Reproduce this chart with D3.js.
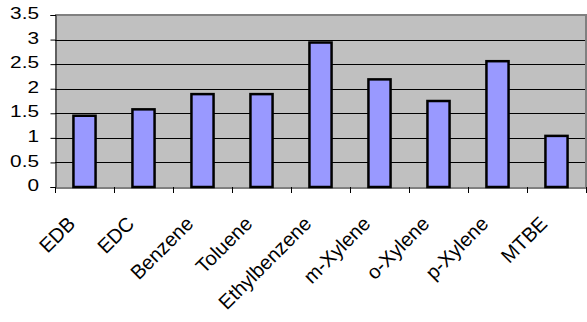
<!DOCTYPE html>
<html>
<head>
<meta charset="utf-8">
<script src="https://cdn.jsdelivr.net/npm/d3@7"></script>
<style>
  html, body { margin: 0; padding: 0; background: #ffffff; }
  svg { display: block; }
  text { font-family: "Liberation Sans", Arial, sans-serif; fill: #000; }
</style>
</head>
<body>
<svg id="chart" width="587" height="322"></svg>
<script>
// Compounds along the category axis
const categories = ["EDB", "EDC", "Benzene", "Toluene", "Ethylbenzene",
                    "m-Xylene", "o-Xylene", "p-Xylene", "MTBE"];
// One value per compound
const values = [1.45, 1.58, 1.89, 1.89, 2.94, 2.19, 1.75, 2.56, 1.04];
// Value-axis tick labels
const yTicks = [0, 0.5, 1, 1.5, 2, 2.5, 3, 3.5];

const svg = d3.select("#chart");
const plot = { left: 55, right: 586, top: 15, bottom: 187 };
const numStretch = 1.3;   // wide numerals on the value axis

const x = d3.scaleBand().domain(categories).range([plot.left, plot.right]).padding(0);
const y = d3.scaleLinear().domain([0, 3.5]).range([plot.bottom, plot.top]);

// Plot area background
svg.append("rect")
  .attr("x", plot.left).attr("y", plot.top)
  .attr("width", plot.right - plot.left).attr("height", plot.bottom - plot.top)
  .attr("fill", "#c0c0c0");

// Horizontal gridlines
svg.append("g").selectAll("line")
  .data(yTicks.filter(d => d > 0 && d < 3.5))
  .join("line")
  .attr("x1", plot.left).attr("x2", plot.right)
  .attr("y1", d => Math.round(y(d)) + 0.5).attr("y2", d => Math.round(y(d)) + 0.5)
  .attr("stroke", "#000").attr("stroke-width", 1);

// Plot area frame (top and right)
svg.append("path")
  .attr("d", `M${plot.left},${plot.top} H${plot.right} V${plot.bottom}`)
  .attr("fill", "none").attr("stroke", "#808080").attr("stroke-width", 2);

// Bars
const barW = x.bandwidth() * 0.375;
svg.append("g").selectAll("rect")
  .data(categories.map((c, i) => ({ c, v: values[i] })))
  .join("rect")
  .attr("x", d => x(d.c) + x.bandwidth() / 2 - barW / 2)
  .attr("y", d => y(d.v))
  .attr("width", barW)
  .attr("height", d => y(0) - y(d.v))
  .attr("fill", "#9999ff")
  .attr("stroke", "#000")
  .attr("stroke-width", 2.5);

// Value axis
const yAxis = svg.append("g")
  .attr("transform", `translate(${plot.left + 0.5},0)`)
  .call(d3.axisLeft(y).tickValues(yTicks).tickSize(5).tickFormat(d3.format("")));
yAxis.select(".domain").attr("stroke", "#000");
yAxis.selectAll(".tick line").attr("stroke", "#000");
yAxis.selectAll(".tick text")
  .attr("x", null).attr("dy", "0.35em")
  .attr("font-size", 16)
  .attr("text-anchor", "end")
  .attr("transform", `translate(-16.5,-2) scale(${numStretch},1)`);

// Category axis
const xAxis = svg.append("g")
  .attr("transform", `translate(0,${plot.bottom + 0.5})`)
  .call(d3.axisBottom(x).tickSize(0).tickFormat(""));
xAxis.select(".domain").attr("stroke", "#000");

// Category boundary tick marks
const edges = categories.map(c => x(c)).concat([x.range()[1]]);
svg.append("g").selectAll("line")
  .data(edges)
  .join("line")
  .attr("x1", d => Math.round(d) + 0.5).attr("x2", d => Math.round(d) + 0.5)
  .attr("y1", plot.bottom).attr("y2", plot.bottom + 6)
  .attr("stroke", "#000");

// Rotated category labels
svg.append("g").selectAll("text")
  .data(categories)
  .join("text")
  .attr("text-anchor", "end")
  .attr("font-size", 20)
  .attr("transform", d =>
    `translate(${x(d) + x.bandwidth() / 2 - 8},225) rotate(-45)`)
  .text(d => d);
</script>
</body>
</html>
